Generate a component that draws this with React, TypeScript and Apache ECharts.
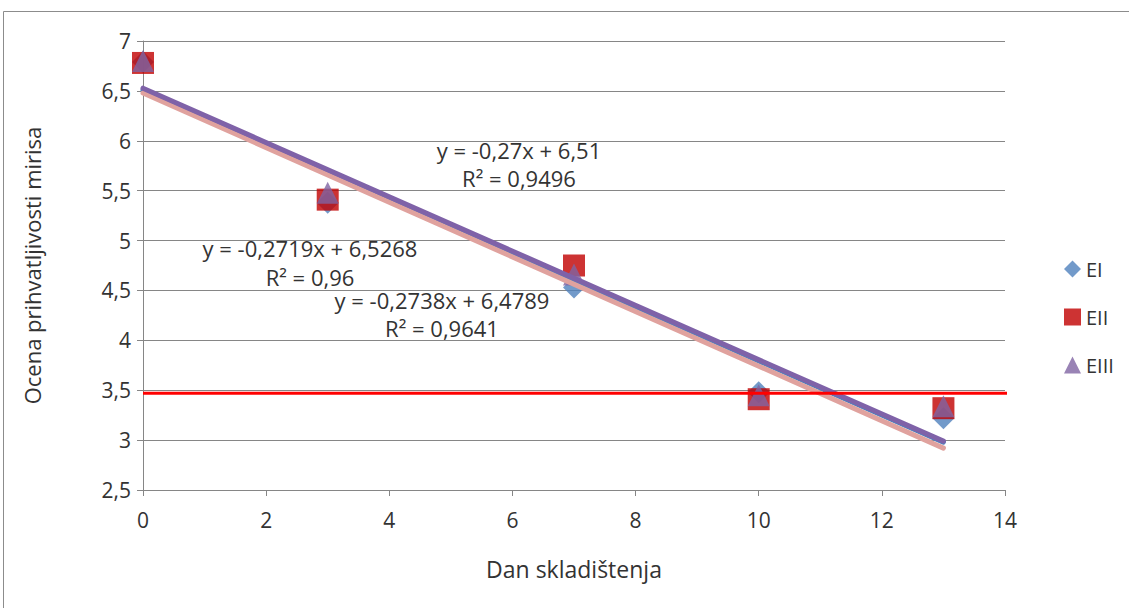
import React, { useEffect, useRef } from "react";
import * as echarts from "echarts";

const days = [0, 3, 7, 10, 13];
const eI = [6.79, 5.38, 4.53, 3.48, 3.22];
const eII = [6.78, 5.41, 4.75, 3.41, 3.32];
const eIII = [6.8, 5.48, 4.66, 3.45, 3.34];
const trendX = [0, 13];
const trendEI = [6.51, 2.98];
const trendEII = [6.4789, 2.92];
const trendEIII = [6.5268, 2.99];
const limitX = [0, 14.1];
const limitY = [3.47, 3.47];
const eqTexts = [
  ["y = -0,27x + 6,51", "R² = 0,9496"],
  ["y = -0,2719x + 6,5268", "R² = 0,96"],
  ["y = -0,2738x + 6,4789", "R² = 0,9641"],
];

const FONT = "Open Sans";
const TXT = "#333333";

function pts(xs: number[], ys: number[]) {
  return xs.map((x, i) => [x, ys[i]]);
}

export default function App() {
  const ref = useRef<HTMLDivElement>(null);
  useEffect(() => {
    document.body.style.margin = "0";
    const chart = echarts.init(ref.current!, null, { renderer: "svg" });
    const textStyle = { fontFamily: FONT, fontSize: 22, fill: TXT };
    chart.setOption({
      animation: false,
      backgroundColor: "#fff",
      textStyle: { fontFamily: FONT },
      grid: { left: 143, right: 124, top: 41, bottom: 118 },
      legend: {
        data: [
          { name: "EI", icon: "diamond" },
          { name: "EII", icon: "rect" },
          { name: "EIII", icon: "triangle" },
        ],
        orient: "vertical",
        left: 1059,
        top: 254,
        itemWidth: 17,
        itemHeight: 17,
        itemGap: 28,
        textStyle: { fontFamily: FONT, fontSize: 20, color: TXT },
      },
      xAxis: {
        type: "value",
        min: 0,
        max: 14,
        interval: 2,
        name: "Dan skladištenja",
        nameLocation: "middle",
        nameGap: 67,
        nameTextStyle: { fontFamily: FONT, fontSize: 23, color: TXT },
        axisLine: { show: true, lineStyle: { color: "#868686", width: 1 } },
        axisTick: { show: true, length: 6, lineStyle: { color: "#868686" } },
        axisLabel: { fontFamily: FONT, fontSize: 21, color: TXT, margin: 19 },
        splitLine: { show: false },
      },
      yAxis: {
        type: "value",
        min: 2.5,
        max: 7,
        interval: 0.5,
        name: "Ocena prihvatljivosti mirisa",
        nameLocation: "middle",
        nameGap: 100,
        nameRotate: 90,
        nameTextStyle: { fontFamily: FONT, fontSize: 22, color: TXT },
        axisLine: { show: true, onZero: false, lineStyle: { color: "#868686", width: 1 } },
        axisTick: { show: true, length: 6, lineStyle: { color: "#868686" } },
        axisLabel: {
          fontFamily: FONT,
          fontSize: 21,
          color: TXT,
          margin: 12,
          formatter: (v: number) => String(v).replace(".", ","),
        },
        splitLine: { show: true, lineStyle: { color: "#868686", width: 1 } },
      },
      series: [
        {
          name: "EI",
          type: "scatter",
          symbol: "diamond",
          symbolSize: 22,
          itemStyle: { color: "#4F81BD" },
          data: pts(days, eI),
          z: 2,
        },
        {
          name: "EII",
          type: "scatter",
          symbol: "rect",
          symbolSize: 22,
          itemStyle: { color: "#C00000" },
          data: pts(days, eII),
          z: 3,
        },
        {
          name: "EIII",
          type: "scatter",
          symbol: "triangle",
          symbolSize: 22,
          itemStyle: { color: "#8064A2" },
          data: pts(days, eIII),
          z: 4,
        },
        {
          name: "trendEI",
          type: "line",
          symbol: "none",
          lineStyle: { color: "#4F81BD", width: 5, cap: "round" },
          data: pts(trendX, trendEI),
          z: 5,
        },
        {
          name: "trendEII",
          type: "line",
          symbol: "none",
          lineStyle: { color: "#E0A29E", width: 5, cap: "round" },
          data: pts(trendX, trendEII),
          z: 5,
        },
        {
          name: "trendEIII",
          type: "line",
          symbol: "none",
          lineStyle: { color: "#7F62A8", width: 5, cap: "round" },
          data: pts(trendX, trendEIII),
          z: 6,
        },
        {
          name: "limit",
          type: "line",
          symbol: "none",
          clip: false,
          lineStyle: { color: "#FF0000", width: 3 },
          data: pts(limitX, limitY),
          z: 7,
        },
      ],
      graphic: [
        {
          type: "rect",
          shape: { x: 3.5, y: 11.5, width: 1200, height: 700 },
          style: { fill: "none", stroke: "#8c8c8c", lineWidth: 1 },
          silent: true,
          z: -1,
        },
        { type: "text", x: 519, y: 150, style: { ...textStyle, text: eqTexts[0][0], align: "center", verticalAlign: "middle" } },
        { type: "text", x: 519, y: 178, style: { ...textStyle, text: eqTexts[0][1], align: "center", verticalAlign: "middle" } },
        { type: "text", x: 310, y: 248, style: { ...textStyle, text: eqTexts[1][0], align: "center", verticalAlign: "middle" } },
        { type: "text", x: 310, y: 277, style: { ...textStyle, text: eqTexts[1][1], align: "center", verticalAlign: "middle" } },
        { type: "text", x: 442, y: 300, style: { ...textStyle, text: eqTexts[2][0], align: "center", verticalAlign: "middle" } },
        { type: "text", x: 442, y: 328, style: { ...textStyle, text: eqTexts[2][1], align: "center", verticalAlign: "middle" } },
      ],
    });
    return () => chart.dispose();
  }, []);
  return <div ref={ref} style={{ width: 1129, height: 608 }} />;
}
